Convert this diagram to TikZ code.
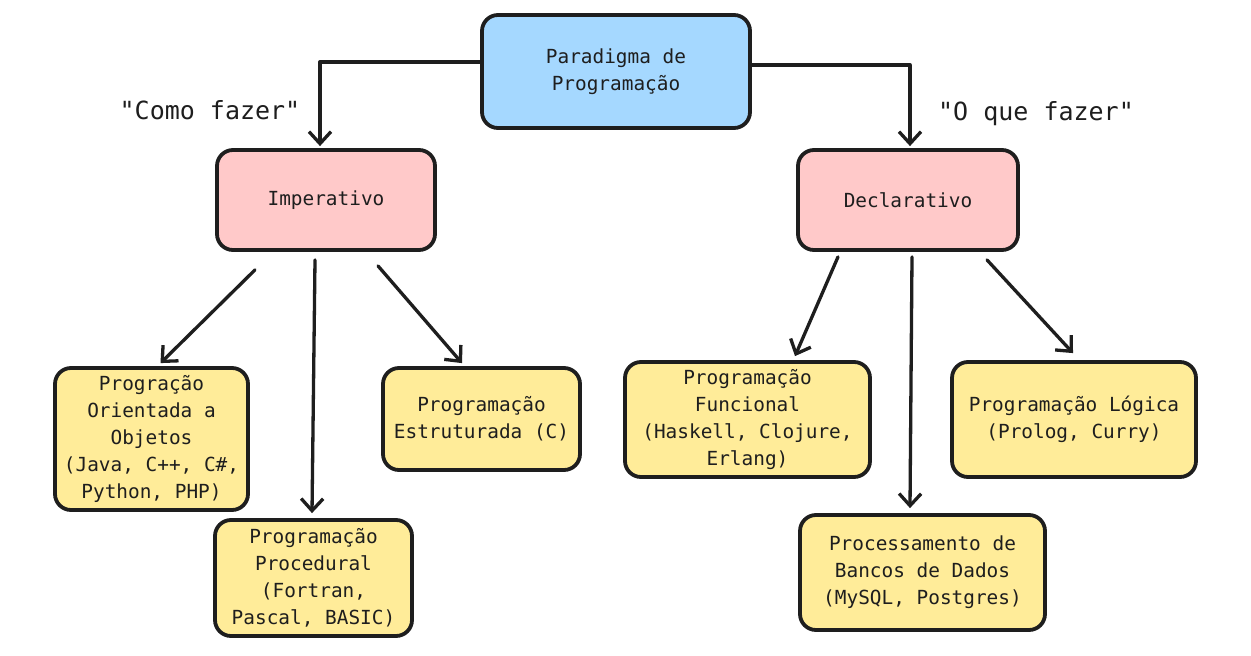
\documentclass[tikz,border=0pt]{standalone}
\usepackage{fontspec}
\setmonofont{DejaVu Sans Mono}
\usetikzlibrary{arrows.meta,calc}
\definecolor{ink}{HTML}{1E1E1E}
\definecolor{blueF}{HTML}{A5D8FF}
\definecolor{pinkF}{HTML}{FFC9C9}
\definecolor{yellowF}{HTML}{FFEC99}
\tikzset{
  box/.style={draw=ink, line width=3.8pt, rounded corners=16pt, align=center,
    font=\ttfamily\fontsize{19.4}{27}\selectfont, text=ink, inner sep=0pt},
  rootbox/.style={box, fill=blueF},
  midbox/.style={box, fill=pinkF},
  leafbox/.style={box, fill=yellowF},
  arr/.style={draw=ink, line width=3.3pt, -{Straight Barb[length=12pt,width=22pt,line width=3.3pt]}, line cap=round, line join=round},
  lbl/.style={font=\ttfamily\fontsize{25}{30}\selectfont, text=ink}
}
\begin{document}
\begin{tikzpicture}[x=1pt,y=-1pt]
\useasboundingbox[fill=white] (0,0) rectangle (1251,656);

\node[rootbox, minimum width=268pt, minimum height=113pt] (root) at (616,71.5) {Paradigma de\\Programação};
\node[midbox, minimum width=218pt, minimum height=100pt] (imp) at (326,200) {Imperativo};
\node[midbox, minimum width=220pt, minimum height=100pt] (dec) at (908,200) {Declarativo};

\node[leafbox, minimum width=193pt, minimum height=142pt] (poo) at (151.5,439) {Progração\\Orientada a\\Objetos\\(Java, C++, C\#,\\Python, PHP)};
\node[leafbox, minimum width=197pt, minimum height=116pt] (proc) at (313.5,578) {Programação\\Procedural\\(Fortran,\\Pascal, BASIC)};
\node[leafbox, minimum width=197pt, minimum height=102pt] (estr) at (481.5,419) {Programação\\Estruturada (C)};
\node[leafbox, minimum width=245pt, minimum height=115pt] (func) at (747.5,419.5) {Programação\\Funcional\\(Haskell, Clojure,\\Erlang)};
\node[leafbox, minimum width=244pt, minimum height=115pt] (log) at (1074,419.5) {Programação Lógica\\(Prolog, Curry)};
\node[leafbox, minimum width=245pt, minimum height=115pt] (bank) at (922.5,572.5) {Processamento de\\Bancos de Dados\\(MySQL, Postgres)};

\node[lbl] (como) at (210,110) {"Como fazer"};
\node[lbl] (oque) at (1036,114) {"O que fazer"};

\draw[arr] ([yshift=9.5pt]root.west) -| ([xshift=-6pt,yshift=2pt]imp.north);
\draw[arr] ([yshift=6.5pt]root.east) -| ([xshift=2pt,yshift=2pt]dec.north);

\draw[arr] ([xshift=-71pt,yshift=-18pt]imp.south) -- ([xshift=9pt,yshift=3pt]poo.north);
\draw[arr] ([xshift=-11pt,yshift=-8pt]imp.south) -- ([xshift=-1.5pt,yshift=5pt]proc.north);
\draw[arr] ([xshift=52pt,yshift=-14pt]imp.south) -- ([xshift=-19.5pt,yshift=3pt]estr.north);

\draw[arr] ([xshift=-70pt,yshift=-5pt]dec.south) -- ([xshift=47.5pt,yshift=4pt]func.north);
\draw[arr] ([xshift=4pt,yshift=-5pt]dec.south) -- ([xshift=-12.5pt,yshift=5pt]bank.north);
\draw[arr] ([xshift=79pt,yshift=-8pt]dec.south) -- ([xshift=-1pt,yshift=7pt]log.north);
\end{tikzpicture}
\end{document}
